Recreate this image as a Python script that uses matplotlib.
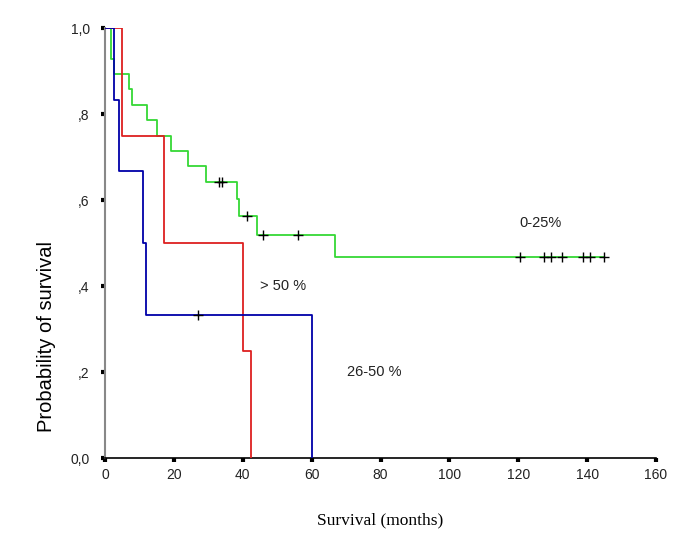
import numpy as np
import matplotlib
matplotlib.use("Agg")
import matplotlib.pyplot as plt

# Kaplan-Meier step data
green_times = [0, 1.7, 2.7, 7.1, 7.9, 12.1, 15.0, 19.1, 24.2, 29.3, 38.3, 39.0, 44.1, 66.7, 144.9]
green_surv = [1.0, 0.929, 0.893, 0.857, 0.821, 0.786, 0.75, 0.714, 0.679, 0.643, 0.603, 0.5625, 0.519, 0.467, 0.467]
green_censor = [33.1, 33.9, 41.2, 46.0, 56.0, 120.6, 127.6, 129.4, 132.6, 138.9, 140.8, 144.9]

red_times = [0, 5.0, 17.2, 40.0, 42.4]
red_surv = [1.0, 0.75, 0.5, 0.25, 0.0]
red_censor = []

blue_times = [0, 2.7, 4.2, 11.1, 12.0, 60.2]
blue_surv = [1.0, 0.833, 0.667, 0.5, 0.333, 0.0]
blue_censor = [26.9]

group_labels = ["0-25%", "> 50 %", "26-50 %"]
x_ticks = [0, 20, 40, 60, 80, 100, 120, 140, 160]
y_ticks = [0.0, 0.2, 0.4, 0.6, 0.8, 1.0]
y_ticklabels = ["0,0", ",2", ",4", ",6", ",8", "1,0"]

fig = plt.figure(figsize=(6.85, 5.47), dpi=100)
ax = fig.add_axes([0.1533, 0.1627, 0.8044, 0.7861])

def surv_at(times, surv, t):
    idx = np.searchsorted(times, t, side="right") - 1
    return np.asarray(surv)[idx]

series = [
    (green_times, green_surv, green_censor, "#35d835"),
    (red_times, red_surv, red_censor, "#dd2020"),
    (blue_times, blue_surv, blue_censor, "#0000a8"),
]
for times, surv, cens, col in series:
    ax.plot(times, surv, drawstyle="steps-post", color=col, lw=1.3, zorder=3)
    if cens:
        cy = [surv_at(times, surv, c) for c in cens]
        ax.plot(cens, cy, linestyle="none", marker="+", color="black",
                markersize=7, markeredgewidth=1.0, zorder=4)

ax.set_xlim(0, 160)
ax.set_ylim(0, 1.0)
ax.set_xticks(x_ticks)
ax.set_yticks(y_ticks)
ax.set_yticklabels(y_ticklabels)

for s in ["top", "right"]:
    ax.spines[s].set_visible(False)
ax.spines["left"].set_color("#888888")
ax.spines["left"].set_linewidth(1.5)
ax.spines["bottom"].set_color("black")
ax.spines["bottom"].set_linewidth(1.2)

ax.tick_params(axis="both", direction="out", length=3, width=3, color="black",
               labelsize=10, labelcolor="#222222")
ax.tick_params(axis="y", pad=8)
ax.tick_params(axis="x", pad=4)
for lab in ax.get_xticklabels() + ax.get_yticklabels():
    lab.set_family("Liberation Sans")

fig.text(47 / 685, 1 - 337 / 547, "Probability of survival", rotation=90,
         ha="center", va="center", fontsize=14.5, family="Liberation Sans")
fig.text(380 / 685, 1 - 520 / 547, "Survival (months)", ha="center", va="center",
         fontsize=12.5, family="Liberation Serif")

ax.text(541 / 685, 1 - 223 / 547, group_labels[0], transform=fig.transFigure,
        ha="center", va="center", fontsize=10.5, family="Liberation Sans", color="#222222")
ax.text(283 / 685, 1 - 286 / 547, group_labels[1], transform=fig.transFigure,
        ha="center", va="center", fontsize=10.5, family="Liberation Sans", color="#222222")
ax.text(374 / 685, 1 - 372 / 547, group_labels[2], transform=fig.transFigure,
        ha="center", va="center", fontsize=10.5, family="Liberation Sans", color="#222222")

fig.savefig("out.png", dpi=100, facecolor="white")
